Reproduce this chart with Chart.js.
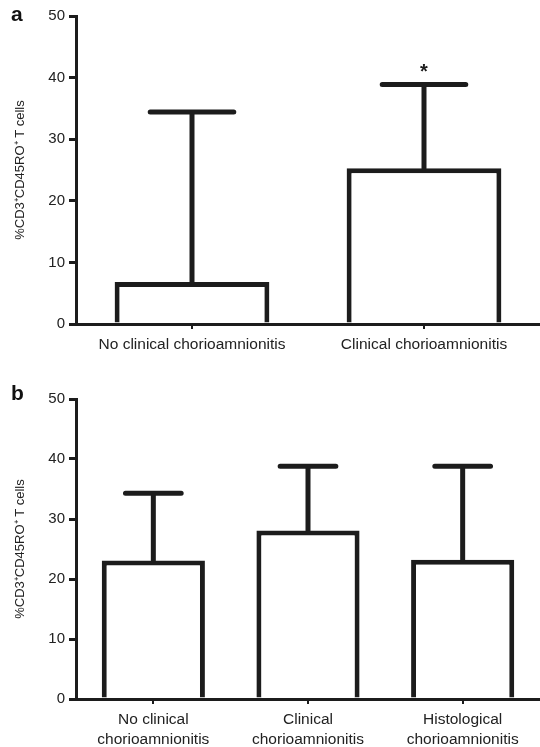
<!DOCTYPE html>
<html>
<head>
<meta charset="utf-8">
<script src="https://cdn.jsdelivr.net/npm/chart.js@4.4.1/dist/chart.umd.min.js"></script>
<style>
  body { margin: 0; background: #fff; }
  #wrap { position: relative; width: 540px; height: 747px; overflow: hidden; }
  canvas { position: absolute; left: 0; }
  #chartA { top: 0; }
  #chartB { top: 370px; }
  .panel { position: absolute; left: 11px; font: bold 21px 'Liberation Sans', Arial, sans-serif; color: #111; }
</style>
</head>
<body>
<div id="wrap">
  <canvas id="chartA" width="540" height="370"></canvas>
  <canvas id="chartB" width="540" height="377"></canvas>
  <div class="panel" style="top:2px">a</div>
  <div class="panel" style="top:381px">b</div>
</div>
<script>
const catsA = ['No clinical chorioamnionitis', 'Clinical chorioamnionitis'];
const meanA = [6.8, 25.3];
const upperA = [34.4, 38.9];
const marksA = ['', '*'];

const catsB = [['No clinical', 'chorioamnionitis'], ['Clinical', 'chorioamnionitis'], ['Histological', 'chorioamnionitis']];
const meanB = [23.1, 28.1, 23.2];
const upperB = [34.3, 38.8, 38.8];

const yTicks = [0, 10, 20, 30, 40, 50];
const yTitle = '%CD3\u207ACD45RO\u207A T cells';

const ink = '#1c1c1c';
const fontFam = "'Liberation Sans', Arial, sans-serif";

// error bars (upper only) + significance marks
function makeErrorBars(upper, marks) {
  return {
    id: 'errorBars',
    afterDatasetsDraw(chart) {
      const { ctx, scales: { y } } = chart;
      const meta = chart.getDatasetMeta(0);
      ctx.save();
      ctx.strokeStyle = ink;
      ctx.lineWidth = 5;
      ctx.lineCap = 'round';
      meta.data.forEach((bar, i) => {
        const top = y.getPixelForValue(upper[i]);
        const half = bar.width * 0.27;
        ctx.beginPath();
        ctx.moveTo(bar.x, bar.y);
        ctx.lineTo(bar.x, top);
        ctx.moveTo(bar.x - half, top);
        ctx.lineTo(bar.x + half, top);
        ctx.stroke();
        if (marks && marks[i]) {
          ctx.fillStyle = ink;
          ctx.font = 'bold 20px ' + fontFam;
          ctx.textAlign = 'center';
          ctx.textBaseline = 'alphabetic';
          ctx.fillText(marks[i], bar.x, top - 6);
        }
      });
      ctx.restore();
    }
  };
}

function makeChart(id, cats, means, upper, marks, xHeight, padTop) {
  return new Chart(document.getElementById(id), {
    type: 'bar',
    data: {
      labels: cats,
      datasets: [{
        data: means,
        backgroundColor: '#fff',
        borderColor: ink,
        borderWidth: 5,
        borderSkipped: 'bottom',
        categoryPercentage: 0.667,
        barPercentage: 1.0
      }]
    },
    options: {
      responsive: false,
      animation: false,
      layout: { padding: { top: padTop, right: 0, left: 0, bottom: 0 } },
      plugins: { legend: { display: false }, tooltip: { enabled: false } },
      scales: {
        x: {
          afterFit: (s) => { s.height = xHeight; },
          border: { display: true, color: ink, width: 3 },
          grid: { display: true, offset: false, drawOnChartArea: false, drawTicks: true, tickLength: 5, color: ink, lineWidth: 2 },
          ticks: { color: '#222', font: { size: 15.5, family: fontFam, lineHeight: 1.28 }, padding: 6, maxRotation: 0, autoSkip: false }
        },
        y: {
          min: 0,
          max: 50,
          afterFit: (s) => { s.width = 76; },
          afterBuildTicks: (s) => { s.ticks = yTicks.map(v => ({ value: v })); },
          border: { display: true, color: ink, width: 3 },
          grid: { display: true, drawOnChartArea: false, drawTicks: true, tickLength: 7, color: ink, lineWidth: 3 },
          ticks: { color: '#222', font: { size: 15, family: fontFam }, padding: 4 },
          title: { display: true, text: yTitle, color: '#222', font: { size: 13, family: fontFam }, padding: { top: 13, bottom: 0 } }
        }
      }
    },
    plugins: [makeErrorBars(upper, marks)]
  });
}

makeChart('chartA', catsA, meanA, upperA, marksA, 46, 16);
makeChart('chartB', catsB, meanB, upperB, null, 48, 29);
</script>
</body>
</html>
